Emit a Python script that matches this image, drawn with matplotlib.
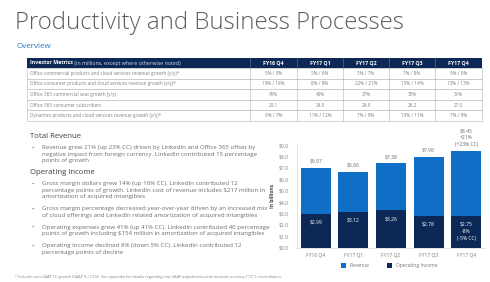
import matplotlib
matplotlib.use('Agg')
import matplotlib.pyplot as plt
from matplotlib.patches import Rectangle

plt.rcParams['font.family'] = ['Open Sans', 'DejaVu Sans']

# chart data (in billions)
quarters = ['FY16 Q4', 'FY17 Q1', 'FY17 Q2', 'FY17 Q3', 'FY17 Q4']
revenue = [6.97, 6.66, 7.38, 7.96, 8.45]
op_income = [2.99, 3.12, 3.26, 2.78, 2.75]
rev_note = '+21%\n(+23% CC)'
oi_note = '-8%\n(-5% CC)'

# investor metrics table
metric_names = [
    'Office commercial products and cloud services revenue growth (y/y)*',
    'Office consumer products and cloud services revenue growth (y/y)*',
    'Office 365 commercial seat growth (y/y)',
    'Office 365 consumer subscribers',
    'Dynamics products and cloud services revenue growth (y/y)*',
]
office_commercial = ['5% / 9%', '5% / 6%', '5% / 7%', '7% / 8%', '5% / 6%']
office_consumer = ['19% / 18%', '8% / 8%', '22% / 21%', '15% / 14%', '13% / 13%']
o365_seats = ['45%', '40%', '37%', '35%', '31%']
o365_subs = ['23.1', '24.0', '24.9', '26.2', '27.0']
dynamics = ['6% / 7%', '11% / 12%', '7% / 9%', '10% / 11%', '7% / 9%']
table_rows = [office_commercial, office_consumer, o365_seats, o365_subs, dynamics]

bullets_rev = [
    ['Revenue grew 21% (up 23% CC) driven by LinkedIn and Office 365 offset by',
     'negative impact from foreign currency. LinkedIn contributed 15 percentage',
     'points of growth'],
]
bullets_oi = [
    ['Gross margin dollars grew 14% (up 16% CC). LinkedIn contributed 12',
     'percentage points of growth. LinkedIn cost of revenue includes $217 million in',
     'amortization of acquired intangibles'],
    ['Gross margin percentage decreased year-over-year driven by an increased mix',
     'of cloud offerings and LinkedIn related amortization of acquired intangibles'],
    ['Operating expenses grew 41% (up 41% CC). LinkedIn contributed 40 percentage',
     'points of growth including $154 million in amortization of acquired intangibles'],
    ['Operating income declined 8% (down 5% CC). LinkedIn contributed 12',
     'percentage points of decline'],
]

BLUE = '#0f6fc6'
NAVY = '#0b2856'
GRAY = '#6d6d6d'

fig = plt.figure(figsize=(4.9, 2.82), dpi=100)
fig.patch.set_facecolor('white')

# page layer in pixel coordinates
pg = fig.add_axes([0, 0, 1, 1])
pg.set_xlim(0, 490)
pg.set_ylim(282, 0)
pg.axis('off')

pg.text(15, 23, 'Productivity and Business Processes', fontsize=17.3,
        color='#5e5e5e', va='center', ha='left', fontweight='light')
pg.text(16, 46, 'Overview', fontsize=5.8, color='#2a7ac0', va='center')

# table
col_edges = [27, 250, 297, 343, 389, 435, 482]
row_top = 58
head_h = 10
row_h = 10.6
pg.add_patch(Rectangle((col_edges[0], row_top), col_edges[-1] - col_edges[0], head_h,
                       facecolor=NAVY, edgecolor='none'))
for x in col_edges[1:-1]:
    pg.plot([x, x], [row_top, row_top + head_h], color='#6b7fa3', lw=0.4)
t = pg.text(30, row_top + head_h / 2, 'Investor Metrics', color='white', fontsize=3.8,
            fontweight='bold', va='center')
pg.annotate(' (in millions, except where otherwise noted)', xy=(1, 0.5), xycoords=t,
            va='center', ha='left', color='#d8deea', fontsize=3.8)
for i, q in enumerate(quarters):
    cx = (col_edges[i + 1] + col_edges[i + 2]) / 2
    pg.text(cx, row_top + head_h / 2, q, color='white', fontsize=3.8,
            fontweight='bold', ha='center', va='center')

y0 = row_top + head_h
for r, (name, vals) in enumerate(zip(metric_names, table_rows)):
    yt = y0 + r * row_h
    pg.add_patch(Rectangle((col_edges[0], yt), col_edges[-1] - col_edges[0], row_h,
                           facecolor='white', edgecolor='#b5b5b5', lw=0.4))
    for x in col_edges[1:-1]:
        pg.plot([x, x], [yt, yt + row_h], color='#b5b5b5', lw=0.4)
    pg.text(30, yt + row_h / 2, name, fontsize=3.3, color='#808080', va='center')
    for i, v in enumerate(vals):
        cx = (col_edges[i + 1] + col_edges[i + 2]) / 2
        pg.text(cx, yt + row_h / 2, v, fontsize=3.3, color='#808080',
                ha='center', va='center')

# commentary on the left
lh = 6.4
def section(title, y, groups):
    pg.text(30, y, title, fontsize=5.6, color='#3f3f3f', va='center')
    y += 12
    for g in groups:
        pg.text(33, y, '\u2022', fontsize=4.6, color=GRAY, va='center', ha='center')
        for line in g:
            pg.text(42, y, line, fontsize=4.4, color=GRAY, va='center')
            y += lh
        y += 5.7
    return y

section('Total Revenue', 136, bullets_rev)
section('Operating Income', 172, bullets_oi)

pg.text(15, 277, '* Includes non-GAAP CC growth (GAAP % / CC%). See appendix for details '
        'regarding non-GAAP adjustments and constant currency ("CC") reconciliation.',
        fontsize=2.7, color='#808080', va='center')

# bar chart
ax = fig.add_axes([297 / 490, (282 - 247.7) / 282, 188 / 490, 102.7 / 282])
x = range(len(quarters))
ax.bar(x, revenue, width=0.8, color=BLUE, zorder=2)
ax.bar(x, op_income, width=0.8, color=NAVY, zorder=3)
ax.set_xlim(-0.5, len(quarters) - 0.5)
ax.set_ylim(0, 9)
ax.set_yticks(range(10))
ax.set_yticklabels(['$%.1f' % v for v in range(10)])
ax.tick_params(axis='y', length=0, labelsize=3.6, labelcolor='#7a7a7a', pad=6)
ax.set_xticks(list(x))
ax.set_xticklabels(quarters)
ax.tick_params(axis='x', length=0, labelsize=3.6, labelcolor='#7a7a7a', pad=4)
for s in ['top', 'right']:
    ax.spines[s].set_visible(False)
ax.spines['left'].set_color('#d9d9d9')
ax.spines['bottom'].set_color('#d9d9d9')
ax.spines['left'].set_linewidth(0.5)
ax.spines['bottom'].set_linewidth(0.5)
ax.set_ylabel('In billions', fontsize=3.6, color='#444444', fontweight='bold', labelpad=3)

last = len(quarters) - 1
for i, (r, o) in enumerate(zip(revenue, op_income)):
    rl = '$%.2f' % r
    ol = '$%.2f' % o
    if i == last:
        rl += '\n' + rev_note
        ol += '\n' + oi_note
    ax.annotate(rl, (i, r), xytext=(0, 3), textcoords='offset points', ha='center',
                va='bottom', fontsize=3.6, color='#6a6a6a', linespacing=1.5,
                annotation_clip=False)
    ax.annotate(ol, (i, o), xytext=(0, -4), textcoords='offset points', ha='center',
                va='top', fontsize=3.6, color='white', linespacing=1.5, zorder=4)

# legend
pg.add_patch(Rectangle((340.5, 262.5), 5, 5, facecolor=BLUE))
pg.text(349, 265.2, 'Revenue', fontsize=3.6, color='#7a7a7a', va='center')
pg.add_patch(Rectangle((387, 262.5), 5, 5, facecolor=NAVY))
pg.text(395.5, 265.2, 'Operating Income', fontsize=3.6, color='#7a7a7a', va='center')

fig.savefig('out.png', dpi=100)
